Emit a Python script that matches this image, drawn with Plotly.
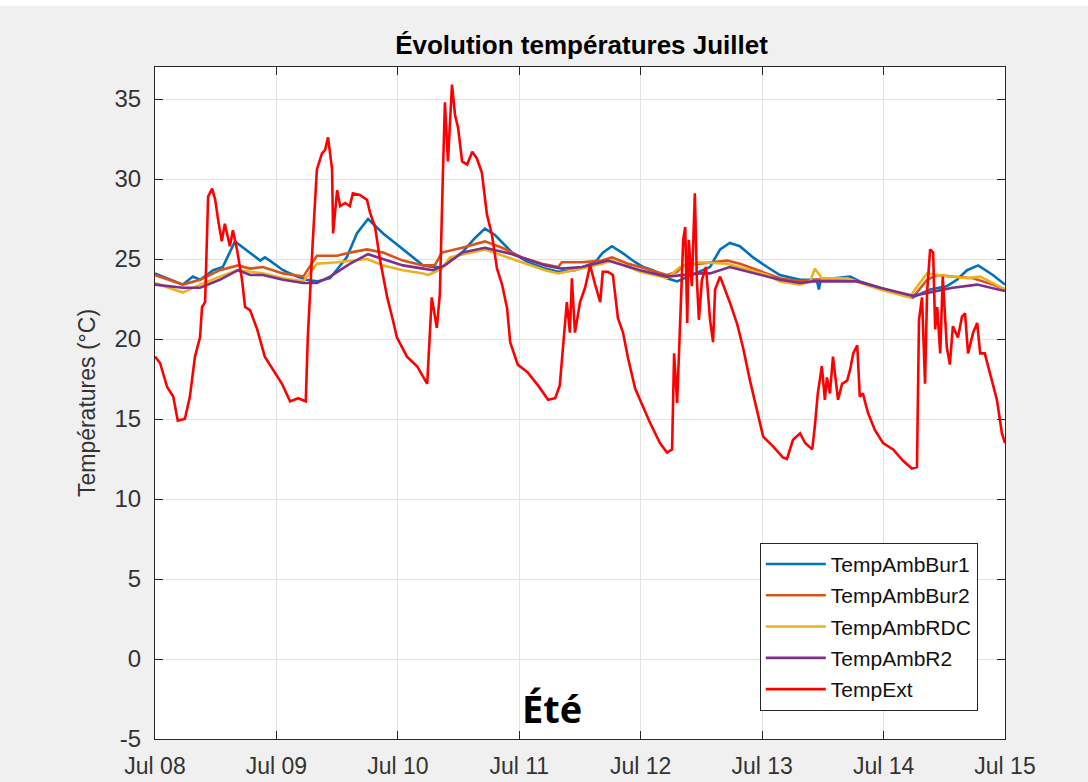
import pandas as pd
import plotly.graph_objects as go

# ---------------- data (hours since Jul 08 00:00, temperatures in °C) ----------------
ext_h = [0, 1.0, 2.4, 3.6, 4.5, 5.9, 6.9, 7.9, 8.9, 9.3, 9.9, 10.5, 11.3, 11.9, 12.5, 13.2, 13.8, 14.8, 15.4, 16.2,
         17.2, 17.8, 18.8, 20.2, 21.7, 23.3, 25.1, 26.7, 28.3, 29.8, 30.2, 31.2, 32.0, 33.0, 33.6, 34.2, 35.0, 35.2,
         36.0, 36.6, 37.6, 38.5, 39.1, 40.5, 41.9, 42.5, 43.5, 44.5, 45.9, 47.0, 47.8, 49.8, 51.8, 53.8, 54.7, 55.7,
         56.3, 56.9, 57.3, 57.9, 58.7, 59.3, 59.9, 60.7, 61.7, 62.7, 63.6, 64.6, 65.6, 66.6, 67.6, 68.6, 69.6, 70.2,
         71.7, 73.7, 75.7, 77.7, 79.1, 80.0, 80.6, 81.4, 82.0, 82.4, 83.0, 84.0, 85.0, 86.0, 87.0, 88.0, 88.5, 89.5,
         90.5, 91.5, 92.5, 93.5, 94.9, 96.5, 97.8, 99.8, 101.2, 102.2, 102.6, 103.2, 103.8, 104.4, 104.8, 105.2,
         105.5, 106.1, 106.7, 107.1, 107.5, 108.1, 108.9, 109.7, 110.3, 110.7, 111.7, 112.7, 113.6, 115.0, 116.2,
         117.6, 119.0, 120.2, 122.1, 124.1, 124.9, 126.1, 127.5, 128.5, 129.9, 130.4, 131.0, 131.8, 132.4, 132.8,
         133.4, 134.0, 135.0, 135.8, 136.8, 137.4, 138.0, 138.8, 139.3, 139.9, 140.9, 142.3, 143.9, 145.9, 147.8,
         149.6, 150.6, 151.0, 151.6, 152.2, 152.6, 153.2, 153.8, 154.2, 154.6, 155.2, 155.7, 156.5, 157.1, 157.7,
         158.7, 159.5, 160.1, 160.7, 161.7, 162.5, 163.1, 164.0, 165.0, 166.4, 167.4, 168.0]
ext_t = [18.9, 18.5, 17.0, 16.4, 14.9, 15.0, 16.4, 18.9, 20.1, 22.0, 22.3, 28.9, 29.4, 28.7, 27.4, 26.1, 27.2, 25.8, 26.8, 25.6,
         23.7, 22.0, 21.8, 20.6, 18.9, 18.1, 17.2, 16.1, 16.3, 16.1, 20.1, 26.2, 30.6, 31.6, 31.8, 32.6, 30.6, 26.6,
         29.3, 28.3, 28.5, 28.3, 29.1, 29.0, 28.7, 27.9, 27.0, 24.9, 22.6, 21.2, 20.1, 18.9, 18.3, 17.2, 22.6, 20.7,
         22.8, 30.3, 34.8, 31.1, 35.9, 34.0, 33.2, 31.1, 30.9, 31.7, 31.3, 30.4, 27.8, 26.5, 24.4, 23.4, 21.9, 19.8,
         18.4, 17.9, 17.1, 16.2, 16.3, 17.1, 19.4, 22.3, 20.4, 23.8, 20.4, 22.3, 23.2, 24.6, 23.4, 22.3, 24.2, 24.2,
         24.0, 21.3, 20.4, 18.8, 16.9, 15.7, 14.8, 13.5, 12.9, 13.1, 19.1, 16.0, 21.2, 26.2, 27.0, 21.0,
         26.2, 23.3, 29.1, 23.7, 21.2, 23.7, 24.5, 21.2, 19.8, 23.1, 23.9, 23.1, 22.3, 21.0, 19.5,
         17.4, 15.4, 13.9, 13.3, 12.6, 12.5, 13.7, 14.1, 13.5, 13.1, 14.5, 16.6, 18.3, 16.2, 17.6,
         16.6, 18.9, 16.2, 17.2, 17.4, 18.1, 19.1, 19.6, 16.4, 16.6, 15.4, 14.3, 13.5, 13.1, 12.4,
         11.9, 12.0, 21.2, 22.6, 17.2, 22.9, 25.6, 25.4, 20.6, 22.0, 19.1, 23.9, 19.5, 18.4, 20.8,
         20.1, 21.4, 21.6, 19.1, 20.4, 21.0, 19.1, 19.1, 17.9, 16.2, 14.1, 13.5]

bur1_h = [0, 5.5, 7.5, 8.9, 11.5, 13.4, 15.8, 18.8, 20.8, 21.7, 22.7, 25.3, 28.1, 30.0, 32.0, 34.6, 37.9, 39.9, 42.1,
          45.1, 49.0, 53.0, 54.9, 56.7, 58.3, 60.7, 63.2, 65.2, 67.2, 70.6, 73.7, 77.1, 79.7, 83.0, 87.0, 88.5, 90.3,
          92.3, 94.9, 96.5, 98.4, 101.2, 103.2, 109.7, 111.7, 113.6, 115.6, 118.2, 121.0, 123.5, 127.5, 130.8, 131.2,
          131.6, 137.4, 139.3, 143.3, 146.7, 149.8, 153.2, 156.5, 158.5, 160.5, 162.7, 165.6, 168.0]
bur1_t = [24.1, 23.4, 23.9, 23.7, 24.3, 24.5, 26.1, 25.4, 24.9, 25.1, 24.9, 24.3, 23.9, 23.7, 23.6, 23.8, 25.1, 26.6, 27.5,
          26.6, 25.6, 24.6, 24.5, 24.5, 24.9, 25.4, 26.3, 26.9, 26.5, 25.4, 24.8, 24.4, 24.2, 24.3, 24.8, 25.4, 25.8,
          25.4, 24.8, 24.5, 24.3, 23.8, 23.6, 24.5, 25.6, 26.0, 25.8, 25.1, 24.5, 24.0, 23.7, 23.7, 23.1,
          23.7, 23.9, 23.6, 23.2, 22.9, 22.6, 23.1, 23.3, 23.7, 24.3, 24.6, 24.0, 23.4]

bur2_h = [0, 5.5, 8.9, 12.8, 16.4, 18.8, 21.3, 25.3, 29.3, 30.6, 32.0, 36.0, 38.5, 41.9, 45.1, 49.0, 53.0, 55.3, 56.7,
          60.7, 65.2, 68.6, 72.5, 76.5, 79.7, 80.4, 84.4, 88.3, 90.3, 93.5, 95.9, 101.2, 103.2, 104.4, 107.7, 113.1,
          115.6, 121.0, 123.5, 127.5, 130.1, 136.8, 143.3, 149.8, 152.6, 154.6, 157.7, 161.7, 165.6, 168.0]
bur2_t = [24.0, 23.4, 23.7, 24.3, 24.6, 24.4, 24.5, 24.1, 23.9, 24.5, 25.2, 25.2, 25.4, 25.6, 25.4, 24.9, 24.6, 24.6, 25.4,
          25.7, 26.1, 25.7, 25.1, 24.7, 24.5, 24.8, 24.8, 24.9, 25.1, 24.7, 24.5, 24.0, 24.2, 24.6, 24.7, 24.9,
          24.7, 24.1, 23.8, 23.6, 23.7, 23.8, 23.2, 22.6, 23.7, 24.0, 23.9, 23.8, 23.4, 23.1]

rdc_h = [0, 5.5, 8.9, 12.8, 16.4, 21.3, 25.3, 29.3, 32.0, 36.0, 41.9, 45.1, 49.0, 53.0, 54.0, 56.7, 58.3, 65.2, 70.6,
         77.1, 79.7, 84.4, 88.3, 90.3, 95.9, 101.2, 103.8, 107.7, 113.1, 121.0, 123.5, 127.5, 129.5, 130.4, 131.8,
         136.8, 143.3, 149.2, 150.2, 152.6, 154.6, 160.5, 163.1, 168.0]
rdc_t = [23.5, 22.9, 23.4, 23.9, 24.3, 24.1, 23.8, 23.6, 24.7, 24.8, 25.0, 24.6, 24.3, 24.1, 24.0, 24.4, 25.1, 25.6, 25.0,
         24.3, 24.1, 24.4, 24.7, 24.9, 24.2, 23.8, 24.5, 24.8, 24.7, 24.0, 23.6, 23.4, 23.6, 24.4, 23.8,
         23.8, 23.1, 22.6, 23.1, 24.1, 24.0, 23.8, 23.9, 23.1]

r2_h = [0, 5.5, 8.9, 12.8, 16.4, 18.8, 21.3, 25.3, 29.3, 32.0, 34.6, 38.5, 42.1, 45.1, 49.0, 53.0, 54.9, 57.3, 60.7,
        65.2, 70.6, 77.1, 80.4, 84.4, 89.5, 95.9, 101.2, 107.7, 109.7, 113.6, 121.0, 123.5, 127.5, 130.1, 138.8,
        143.3, 149.8, 153.2, 157.7, 162.5, 168.0]
r2_t = [23.4, 23.2, 23.2, 23.7, 24.3, 24.0, 24.0, 23.7, 23.5, 23.5, 23.9, 24.7, 25.3, 25.0, 24.6, 24.4, 24.3, 24.6, 25.4,
        25.7, 25.3, 24.6, 24.4, 24.5, 24.9, 24.3, 23.9, 24.1, 24.1, 24.5, 23.9, 23.7, 23.5, 23.6, 23.6,
        23.2, 22.7, 22.9, 23.2, 23.4, 23.0]

series_names = ["TempAmbBur1", "TempAmbBur2", "TempAmbRDC", "TempAmbR2", "TempExt"]
series_colors = ["#0072BD", "#D95319", "#EDB120", "#7E2F8E", "#FF0000"]
tick_days = ["2021-07-08", "2021-07-09", "2021-07-10", "2021-07-11",
             "2021-07-12", "2021-07-13", "2021-07-14", "2021-07-15"]
y_ticks = [-5, 0, 5, 10, 15, 20, 25, 30, 35]

start = pd.Timestamp("2021-07-08")


def to_time(hours):
    return start + pd.to_timedelta(hours, unit="h")


series = [(bur1_h, bur1_t), (bur2_h, bur2_t), (rdc_h, rdc_t), (r2_h, r2_t), (ext_h, ext_t)]

fig = go.Figure()
for (hh, tt), name, col in zip(series, series_names, series_colors):
    fig.add_trace(go.Scatter(x=to_time(hh), y=tt, mode="lines", name=name, legendgroup=name,
                             line=dict(color=col, width=2.6)))

font_fam = "Liberation Sans, Arial, sans-serif"
axis_col = "#262626"
tick_col = "#333333"

fig.update_layout(
    width=1088, height=782,
    paper_bgcolor="#f0f0f0", plot_bgcolor="white",
    margin=dict(l=155, r=83, t=67, b=43),
    font=dict(family=font_fam, size=21, color=tick_col),
    title=dict(text="<b>Évolution températures Juillet</b>", x=0.5345, xanchor="center",
               y=0.942, yanchor="middle", font=dict(family=font_fam, size=26, color="#000000")),
    showlegend=True,
    legend=dict(x=0.968, xanchor="right", y=0.042, yanchor="bottom",
                bgcolor="white", bordercolor=axis_col, borderwidth=1,
                font=dict(family=font_fam, size=21, color="#111111"),
                tracegroupgap=1, itemwidth=60),
    xaxis=dict(range=[start, pd.Timestamp("2021-07-15")], tickvals=pd.to_datetime(tick_days),
               tickformat="%b %d", showgrid=True, gridcolor="#e3e3e3", gridwidth=1,
               showline=True, linecolor=axis_col, linewidth=1, mirror="ticks",
               ticks="inside", ticklen=8, tickcolor=axis_col, zeroline=False,
               ticklabelstandoff=6, automargin=False,
               tickfont=dict(size=23, color=tick_col)),
    yaxis=dict(range=[-5, 37], tickvals=y_ticks, ticktext=[str(v) for v in y_ticks],
               showgrid=True, gridcolor="#e3e3e3", gridwidth=1,
               showline=True, linecolor=axis_col, linewidth=1, mirror="ticks",
               ticks="inside", ticklen=8, tickcolor=axis_col, zeroline=False,
               ticklabelstandoff=8, automargin=False,
               tickfont=dict(size=24, color=tick_col),
               title=dict(text="Températures (°C)", font=dict(size=23, color=tick_col), standoff=12)),
)

fig.add_annotation(text="<b>Été</b>", xref="paper", yref="paper", x=0.4675, y=0.046,
                   xanchor="center", yanchor="middle", showarrow=False,
                   font=dict(family="Open Sans, Noto Sans, sans-serif", size=38, color="#000000"))

# white strip at the very top of the screenshot
fig.add_shape(type="rect", xref="paper", yref="paper", x0=-0.2, x1=1.2, y0=1.091, y1=1.12,
              fillcolor="white", line=dict(width=0), layer="below")

fig.write_html("out.html")
